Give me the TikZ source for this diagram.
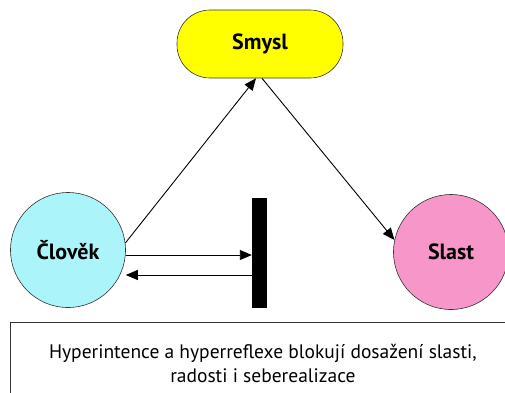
\documentclass[tikz,border=0pt]{standalone}
\usepackage{fontspec}
\setmainfont{PT Sans}
\usetikzlibrary{arrows.meta}
\definecolor{smyslyellow}{RGB}{255,255,0}
\definecolor{clovekcyan}{RGB}{170,244,250}
\definecolor{slastpink}{RGB}{247,150,200}
\tikzset{
  pojem/.style={draw=black!80,semithick,font=\fontsize{22}{26}\selectfont\bfseries},
  kruh/.style={pojem,circle,minimum size=115pt,inner sep=0pt},
  sipka/.style={line width=0.9pt},
}
\begin{document}
\begin{tikzpicture}[x=1pt,y=-1pt,>={Triangle[length=12pt,width=10pt]}]
\useasboundingbox (0,0) rectangle (505,392);
\node[pojem,fill=smyslyellow,rounded corners=33pt,minimum width=166pt,minimum height=68pt] (smysl) at (260,44) {Smysl};
\node[kruh,fill=clovekcyan] (clovek) at (68,250) {Člověk};
\node[kruh,fill=slastpink] (slast) at (451,252) {Slast};
\node[fill=black,inner sep=0pt,minimum width=15pt,minimum height=110pt] (bar) at (259.5,253) {};

\draw[sipka,->] (clovek.7) -- ([xshift=-4pt]smysl.south);
\draw[sipka,->] ([xshift=2pt]smysl.south) -- (slast.168);
\draw[sipka,->] ([yshift=-5pt]clovek.east) -- ([yshift=-5pt]clovek.east -| bar.west);
\draw[sipka,<-] ([yshift=-25pt]clovek.east) -- ([yshift=-25pt]clovek.east -| bar.west);

\node[draw=black!80,thick,anchor=north west,minimum width=505pt,minimum height=82pt,
  align=center,font=\fontsize{19.5}{24}\selectfont] (popis) at (10,322)
  {Hyperintence a hyperreflexe blokují dosažení slasti,\\radosti i seberealizace};
\end{tikzpicture}
\end{document}
